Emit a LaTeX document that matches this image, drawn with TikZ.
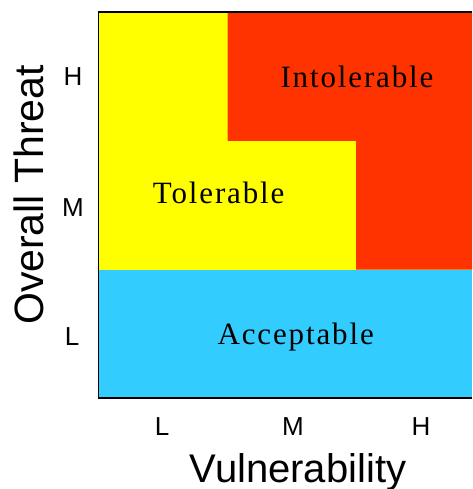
\documentclass[tikz,border=0pt]{standalone}
\usepackage{fontspec}
\setmainfont{Liberation Serif}
\newfontfamily\lsans{Liberation Sans}
\definecolor{ryellow}{HTML}{FFFF00}
\definecolor{rred}{HTML}{FF3300}
\definecolor{rblue}{HTML}{33CCFF}
\begin{document}
\begin{tikzpicture}[x=1pt,y=-1pt,
  region/.style={font=\fontsize{31}{31}\selectfont\addfontfeature{LetterSpace=6}, anchor=base, inner sep=0pt},
  tick/.style={font=\lsans\fontsize{26}{26}\selectfont, anchor=base, inner sep=0pt},
  axis/.style={font=\lsans\fontsize{40}{40}\selectfont, anchor=base, inner sep=0pt}]
\useasboundingbox (0,0) rectangle (472,489);
% regions
\fill[ryellow] (98.5,12) rectangle (472,269.5);
\fill[rred] (227.5,12) -- (472,12) -- (472,269.5) -- (356,269.5) -- (356,141) -- (227.5,141) -- cycle;
\fill[rblue] (98.5,269.5) rectangle (472,398);
\draw[line width=1.3pt] (472,12) -- (98.5,12) -- (98.5,398) -- (472,398);
% region labels
\node[region] (intol) at (357,87.3) {Intolerable};
\node[region] (tol) at (218.7,203.3) {Tolerable};
\node[region] (acc) at (295.7,344.3) {Acceptable};
% ticks
\node[tick] (xl) at (162,435) {L};
\node[tick] (xm) at (293,435) {M};
\node[tick] (xh) at (421,435) {H};
\node[tick] (yh) at (73,86) {H};
\node[tick] (ym) at (73,216.5) {M};
\node[tick] (yl) at (72,345) {L};
% axis titles
\node[axis] (xt) at (298,482) {Vulnerability};
\node[axis, rotate=90, font=\lsans\fontsize{41}{41}\selectfont] (yt) at (43,195) {Overall Threat};
\end{tikzpicture}
\end{document}
